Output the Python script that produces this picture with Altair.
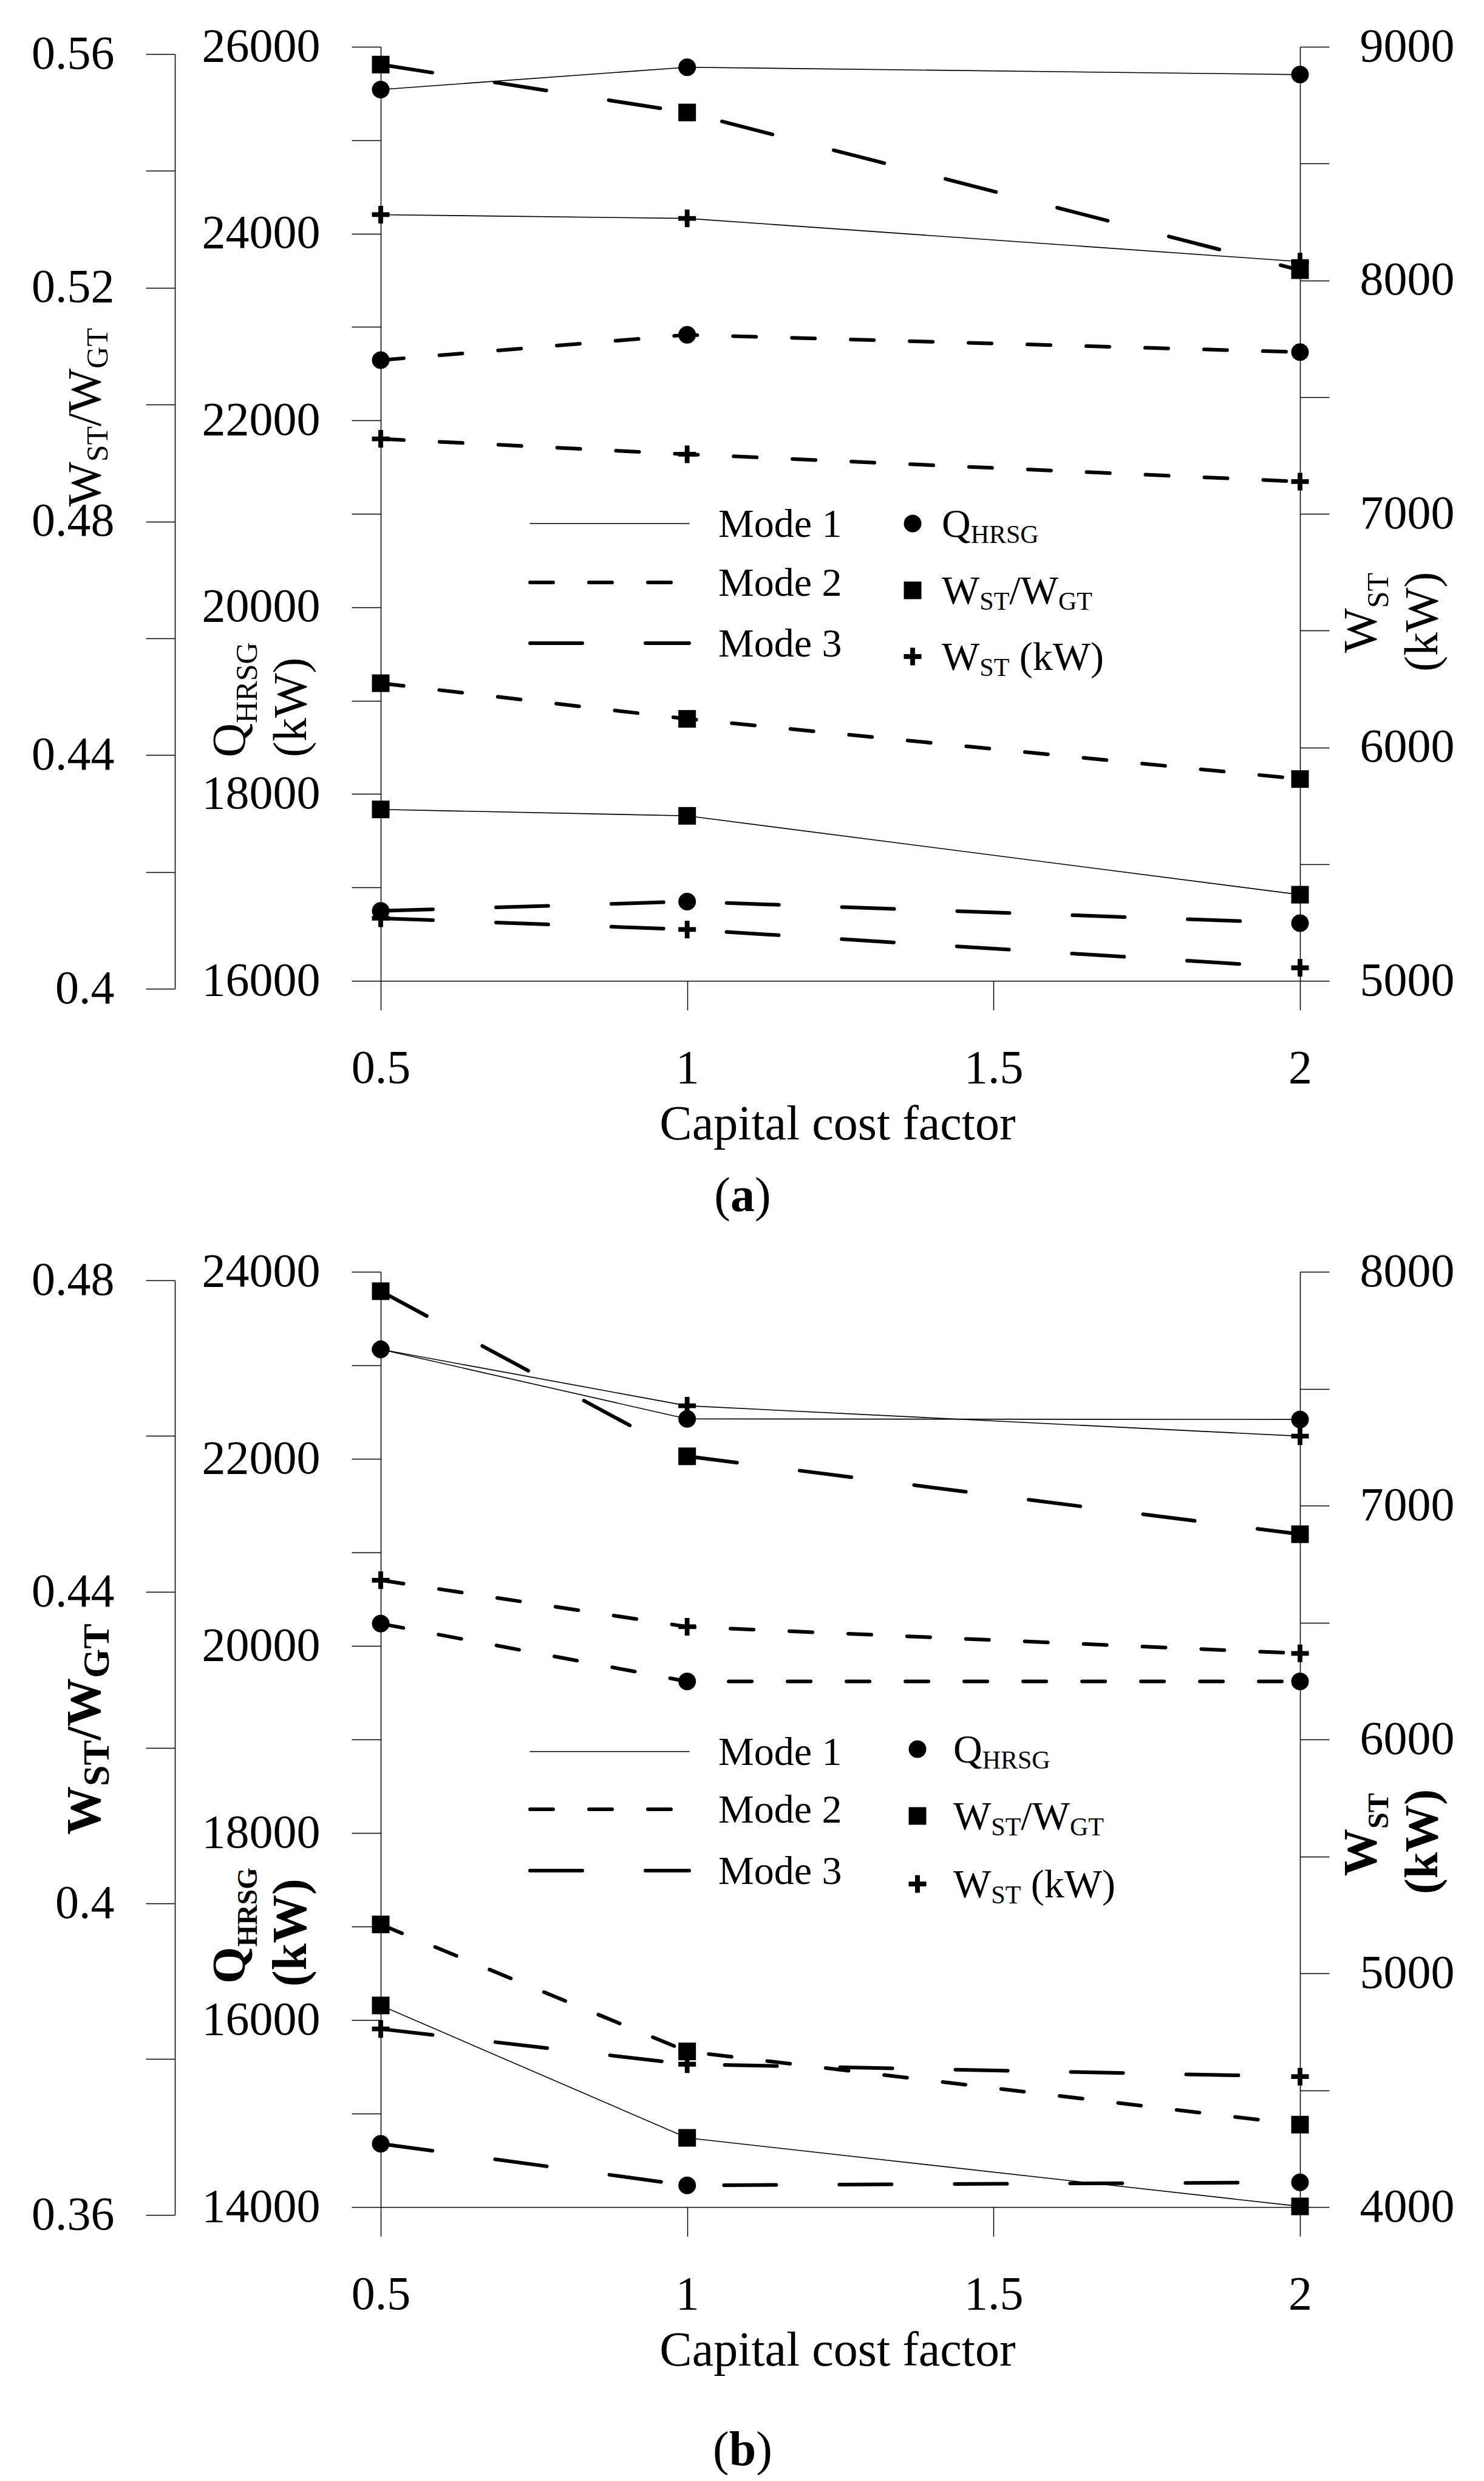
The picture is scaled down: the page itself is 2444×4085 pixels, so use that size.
import altair as alt
import pandas as pd

# ---------------- data ----------------
ccf = [0.5, 1.0, 2.0]
modes = ["Mode 1", "Mode 2", "Mode 3"]
x_ticks = [0.5, 1.0, 1.5, 2.0]
x_title = "Capital cost factor"

# panel (a)
a_q_mode1 = [25542, 25781, 25702]
a_q_mode2 = [22645, 22916, 22731]
a_q_mode3 = [16749, 16849, 16617]
a_ratio_mode1 = [0.4307, 0.4296, 0.4161]
a_ratio_mode2 = [0.4523, 0.4462, 0.4359]
a_ratio_mode3 = [0.5582, 0.5500, 0.5230]
a_wst_mode1 = [8281, 8265, 8080]
a_wst_mode2 = [7321, 7255, 7138]
a_wst_mode3 = [5268, 5220, 5056]

# panel (b)
b_q_mode1 = [23171, 22427, 22421]
b_q_mode2 = [20238, 19620, 19620]
b_q_mode3 = [14677, 14232, 14265]
b_ratio_mode1 = [0.3869, 0.3699, 0.3611]
b_ratio_mode2 = [0.3973, 0.3810, 0.3716]
b_ratio_mode3 = [0.4786, 0.4574, 0.4474]
b_wst_mode1 = [7668, 7427, 7297]
b_wst_mode2 = [6681, 6482, 6368]
b_wst_mode3 = [4762, 4611, 4558]

# axis ticks
a_ratio_ticks = [0.40, 0.42, 0.44, 0.46, 0.48, 0.50, 0.52, 0.54, 0.56]
a_q_ticks = [16000, 17000, 18000, 19000, 20000, 21000, 22000, 23000, 24000, 25000, 26000]
a_wst_ticks = [5000, 5500, 6000, 6500, 7000, 7500, 8000, 8500, 9000]
b_ratio_ticks = [0.36, 0.38, 0.40, 0.42, 0.44, 0.46, 0.48]
b_q_ticks = [14000, 15000, 16000, 17000, 18000, 19000, 20000, 21000, 22000, 23000, 24000]
b_wst_ticks = [4000, 4500, 5000, 5500, 6000, 6500, 7000, 7500, 8000]


def frame(q_sets, r_sets, w_sets):
    rows = []
    for series, sets in (("Q", q_sets), ("R", r_sets), ("W", w_sets)):
        for mode, vals in zip(modes, sets):
            for c, v in zip(ccf, vals):
                rows.append({"ccf": c, "value": v, "series": series, "mode": mode})
    return pd.DataFrame(rows)


df_a = frame([a_q_mode1, a_q_mode2, a_q_mode3],
             [a_ratio_mode1, a_ratio_mode2, a_ratio_mode3],
             [a_wst_mode1, a_wst_mode2, a_wst_mode3])
df_b = frame([b_q_mode1, b_q_mode2, b_q_mode3],
             [b_ratio_mode1, b_ratio_mode2, b_ratio_mode3],
             [b_wst_mode1, b_wst_mode2, b_wst_mode3])

# ---------------- style ----------------
SERIF = "Liberation Serif"
PLUS = "M-1,-0.27H-0.27V-1H0.27V-0.27H1V0.27H0.27V1H-0.27V0.27H-1Z"
SHAPES = {"R": "square", "Q": "circle", "W": PLUS}
DASH = {"Mode 1": None, "Mode 2": [38, 59], "Mode 3": [86, 104]}
WIDTH = {"Mode 1": 1.6, "Mode 2": 6, "Mode 3": 6}
MSIZE = 841

REG = {"W": .944, "S": .556, "T": .611, "G": .722, "/": .278, "Q": .722, "H": .722,
       "R": .667, "(": .333, "k": .5, ")": .333, " ": .25, "a": .444, "b": .5}
BOLD = {"W": 1.0, "S": .556, "T": .667, "G": .778, "/": .278, "Q": .778, "H": .778,
        "R": .722, "(": .333, "k": .556, ")": .333, " ": .25, "a": .5, "b": .556}

ONE = alt.Data(values=[{"k": 0}])


def text_width(s, size, bold):
    m = BOLD if bold else REG
    return sum(m.get(c, 0.5) for c in s) * size


def label(s, x, y, size, bold=False, angle=0):
    return alt.Chart(ONE).mark_text(
        text=s, font=SERIF, fontSize=size, fontWeight="bold" if bold else "normal",
        angle=angle, align="left", baseline="alphabetic", color="black"
    ).encode(x=alt.value(x), y=alt.value(y))


def rich(pieces, x, y, vertical=False):
    out, pos = [], 0.0
    for s, size, bold, shift in pieces:
        if s.strip():
            if vertical:
                out.append(label(s, x + shift, y - pos, size, bold, angle=270))
            else:
                out.append(label(s, x + pos, y + shift, size, bold))
        pos += text_width(s, size, bold)
    return out


def point_mark(series):
    return dict(shape=SHAPES[series], filled=True, color="black", opacity=1,
                size=MSIZE, strokeWidth=0)


AX = dict(domainColor="black", domainWidth=1.5, tickColor="black", tickWidth=1.5,
          tickSize=48, labelFont=SERIF, labelFontSize=78, labelColor="black",
          grid=False, labelOverlap=False, labelFlush=False, labelBound=False,
          labelLimit=600)


def panel(df, H, r_dom, r_rng, q_dom, q_rng, w_dom, w_rng, r_ticks, q_ticks, w_ticks,
          extras):
    xaxis = alt.Axis(orient="bottom", offset=-13, values=x_ticks, format="~g",
                     labelPadding=119, labelBaseline="alphabetic",
                     title=x_title, titleFont=SERIF, titleFontSize=80,
                     titleFontWeight="normal", titleColor="black",
                     titleBaseline="alphabetic", titleX=752, titleY=260, **AX)
    x = alt.X("ccf:Q", scale=alt.Scale(domain=[0.5, 2], nice=False, zero=False),
              axis=xaxis)
    r_axis = alt.Axis(orient="left", offset=339, values=r_ticks, title=None,
                      labelExpr="round(datum.value * 100) % 4 == 0 ? format(datum.value, '~g') : ''",
                      labelPadding=52, labelBaseline="middle", **AX)
    q_axis = alt.Axis(orient="left", offset=0, values=q_ticks, title=None,
                      labelExpr="datum.value % 2000 == 0 ? format(datum.value, 'd') : ''",
                      labelPadding=52, labelBaseline="middle", **AX)
    w_axis = alt.Axis(orient="right", offset=0, values=w_ticks, title=None,
                      labelExpr="datum.value % 1000 == 0 ? format(datum.value, 'd') : ''",
                      labelPadding=50, labelBaseline="middle", **AX)
    layers = []
    for series, dom, rng, axis in (("R", r_dom, r_rng, r_axis),
                                   ("Q", q_dom, q_rng, q_axis),
                                   ("W", w_dom, w_rng, w_axis)):
        y = alt.Y("value:Q", scale=alt.Scale(domain=dom, range=rng, nice=False, zero=False),
                  axis=axis)
        sub = []
        for mode in modes:
            mk = dict(color="black", strokeWidth=WIDTH[mode], strokeCap="round")
            if DASH[mode]:
                mk["strokeDash"] = DASH[mode]
            sub.append(alt.Chart(df).transform_filter(
                (alt.datum.series == series) & (alt.datum.mode == mode)
            ).mark_line(**mk).encode(x=x, y=y))
        sub.append(alt.Chart(df).transform_filter(alt.datum.series == series)
                   .mark_point(**point_mark(series)).encode(x=x, y=y))
        layers.append(alt.layer(*sub))
    return alt.layer(*layers, *extras).resolve_scale(y="independent").properties(
        width=1514, height=H)


def legend(mode_rows, sym_rows, sym_x, lab_x):
    out = []
    for mode, yv in zip(modes, mode_rows):
        mk = dict(color="black", strokeWidth=WIDTH[mode], strokeCap="round")
        if DASH[mode]:
            mk["strokeDash"] = DASH[mode]
        out.append(alt.Chart(ONE).mark_rule(**mk).encode(
            x=alt.value(246), x2=alt.value(508), y=alt.value(yv)))
        out.append(label(mode, 556, yv + 22, 66))
    sym_labels = {
        "Q": [("Q", 66, False, 0), ("HRSG", 42, False, 10)],
        "R": [("W", 66, False, 0), ("ST", 42, False, 10), ("/", 66, False, 0),
              ("W", 66, False, 0), ("GT", 42, False, 10)],
        "W": [("W", 66, False, 0), ("ST", 42, False, 10), (" ", 66, False, 0),
              ("(kW)", 66, False, 0)],
    }
    for series, yv in zip(["Q", "R", "W"], sym_rows):
        out.append(alt.Chart(ONE).mark_point(**point_mark(series)).encode(
            x=alt.value(sym_x), y=alt.value(yv)))
        out += rich(sym_labels[series], lab_x, yv + 22)
    return out


def tag(letter, baseline):
    pieces = [("(", 80, False, 0), (letter, 80, True, 0), (")", 80, False, 0)]
    total = sum(text_width(s, z, b) for s, z, b, _ in pieces)
    return rich(pieces, 596 - total / 2, baseline)


# ---------------- panel (a) ----------------
extras_a = []
extras_a += legend([785, 882, 982], [785, 895, 1004], 876, 924)
extras_a += rich([("W", 78, False, 0), ("ST", 50, False, 12), ("/", 78, False, 0),
                  ("W", 78, False, 0), ("GT", 50, False, 12)], -462, 757, vertical=True)
extras_a += rich([("Q", 78, False, 0), ("HRSG", 50, False, 20)], -224, 1170, vertical=True)
extras_a += rich([("(kW)", 78, False, 0)], -123, 1170, vertical=True)
extras_a += rich([("W", 78, False, 0), ("ST", 50, False, 20)], 1639, 998, vertical=True)
extras_a += rich([("(kW)", 78, False, 0)], 1740, 1029, vertical=True)
extras_a += tag("a", 1917)
# invisible anchor fixing the page origin
extras_a.append(alt.Chart(ONE).mark_point(opacity=0, size=1).encode(
    x=alt.value(-618), y=alt.value(-68)))

top = panel(df_a, 1551,
            [0.40, 0.56], [1551, 12],
            [16000, 26000], [1538, 0],
            [5000, 9000], [1538, 0],
            a_ratio_ticks, a_q_ticks, a_wst_ticks, extras_a)

# ---------------- panel (b) ----------------
extras_b = []
extras_b += legend([790, 885, 986], [786, 896, 1008], 884, 943)
extras_b += rich([("W", 80, True, 0), ("ST", 62, True, 14), ("/", 80, True, 0),
                  ("W", 80, True, 0), ("GT", 62, True, 14)], -462, 927, vertical=True)
extras_b += rich([("Q", 78, True, 0), ("HRSG", 46, True, 20)], -224, 1172, vertical=True)
extras_b += rich([("(kW)", 80, True, 0)], -123, 1177, vertical=True)
extras_b += rich([("W", 78, True, 0), ("ST", 48, True, 20)], 1639, 995, vertical=True)
extras_b += rich([("(kW)", 78, True, 0)], 1740, 1025, vertical=True)
extras_b += tag("b", 1965)

bottom = panel(df_b, 1553,
               [0.36, 0.48], [1553, 14],
               [14000, 24000], [1540, 0],
               [4000, 8000], [1540, 0],
               b_ratio_ticks, b_q_ticks, b_wst_ticks, extras_b)

chart = alt.vconcat(top, bottom, spacing=466, bounds="flush").properties(
    padding=0
).configure_view(strokeWidth=0)

chart.save("out.html", embed_options={"renderer": "svg", "actions": False})
